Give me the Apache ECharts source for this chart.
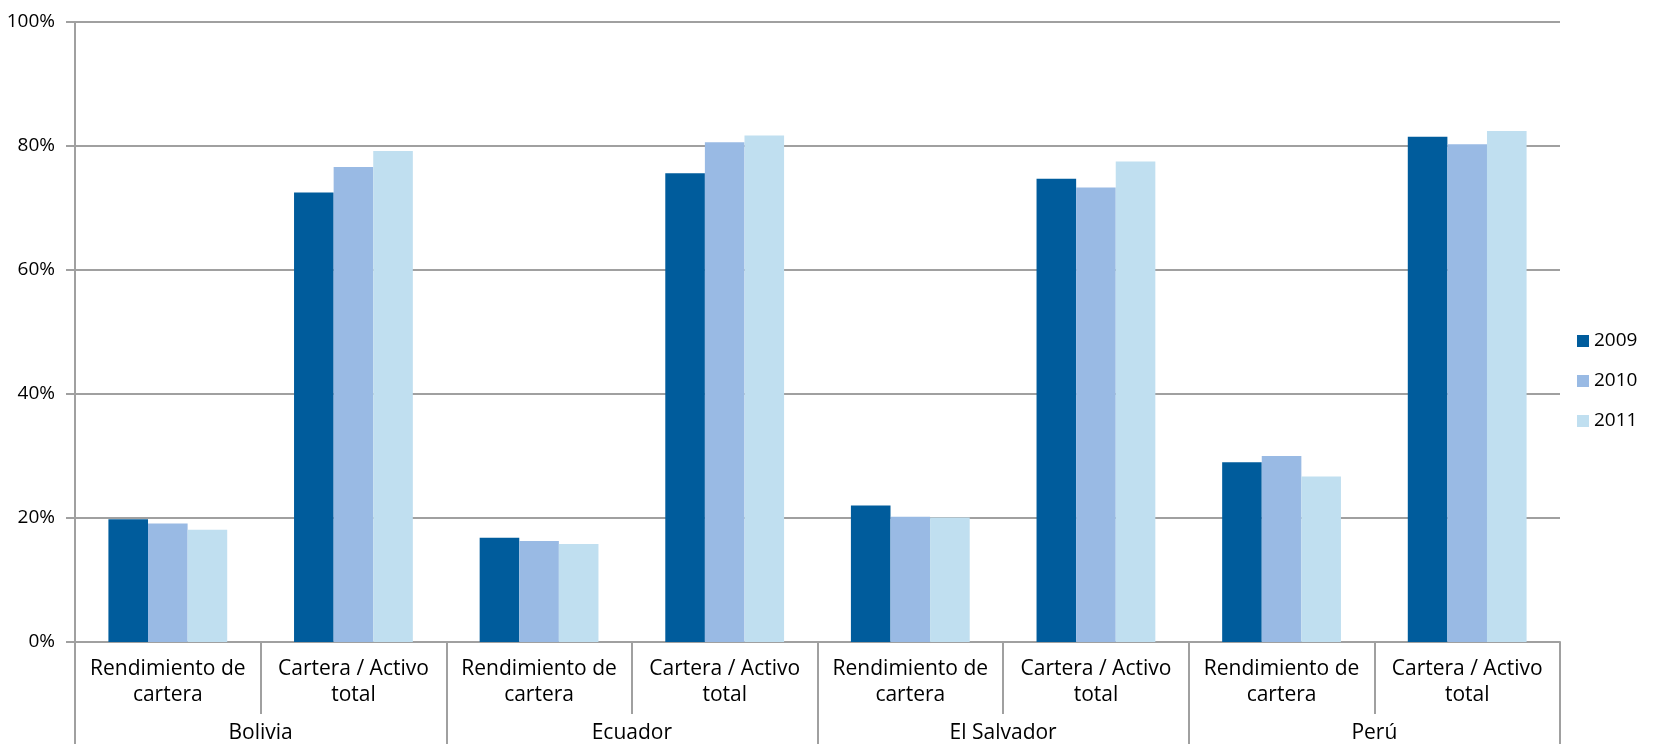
<!DOCTYPE html>
<html>
<head>
<meta charset="utf-8">
<title>Rendimiento de cartera y Cartera / Activo total</title>
<script src="https://cdn.jsdelivr.net/npm/echarts@6/dist/echarts.min.js"></script>
<style>
  html, body { margin: 0; padding: 0; background: #fff; }
  #chart { width: 1663px; height: 744px; }
</style>
</head>
<body>
<div id="chart"></div>
<script>
// Indicator names (inner axis row) and the country each pair belongs to (outer row)
const indicators = [
  'Rendimiento de\ncartera', 'Cartera / Activo\ntotal',
  'Rendimiento de\ncartera', 'Cartera / Activo\ntotal',
  'Rendimiento de\ncartera', 'Cartera / Activo\ntotal',
  'Rendimiento de\ncartera', 'Cartera / Activo\ntotal'
];
const countries = ['Bolivia', 'Ecuador', 'El Salvador', 'Perú'];
const years = ['2009', '2010', '2011'];

// Percent values per year, in the same order as the indicators
const values2009 = [19.8, 72.5, 16.8, 75.6, 22.0, 74.7, 29.0, 81.5];
const values2010 = [19.1, 76.6, 16.3, 80.6, 20.2, 73.3, 30.0, 80.3];
const values2011 = [18.1, 79.2, 15.8, 81.7, 20.1, 77.5, 26.7, 82.4];

const yTicks = { min: 0, max: 100, step: 20 };
const colors = ['#005C9C', '#99BAE4', '#C0DFF0'];

const FONT = '"Open Sans", "Noto Sans", sans-serif';
const GRID_GRAY = '#a0a0a0';

const chart = echarts.init(document.getElementById('chart'), null, { renderer: 'canvas' });

const seriesValues = [values2009, values2010, values2011];

chart.setOption({
  animation: false,
  color: colors,
  textStyle: { fontFamily: FONT, color: '#000' },
  grid: { left: 75, right: 103, top: 22, bottom: 102, containLabel: false },
  legend: {
    orient: 'vertical',
    left: 1572,
    top: 326,
    icon: 'rect',
    itemWidth: 12,
    itemHeight: 12,
    itemGap: 20,
    data: years,
    textStyle: { fontFamily: FONT, fontSize: 19, color: '#000', lineHeight: 20 }
  },
  xAxis: [
    {
      type: 'category',
      data: indicators,
      position: 'bottom',
      axisLine: { show: true, lineStyle: { color: GRID_GRAY, width: 2 } },
      axisTick: { show: true, interval: 0, length: 72, lineStyle: { color: GRID_GRAY, width: 2 } },
      axisLabel: {
        interval: 0,
        margin: 14,
        fontFamily: FONT,
        fontSize: 21,
        lineHeight: 26,
        color: '#000',
        align: 'center'
      },
      splitLine: { show: false }
    },
    {
      type: 'category',
      data: countries,
      position: 'bottom',
      axisLine: { show: false },
      axisTick: { show: true, interval: 0, length: 104, lineStyle: { color: GRID_GRAY, width: 2 } },
      axisLabel: {
        interval: 0,
        margin: 80,
        fontFamily: FONT,
        fontSize: 21,
        lineHeight: 22,
        color: '#000'
      },
      splitLine: { show: false }
    }
  ],
  yAxis: {
    type: 'value',
    min: yTicks.min,
    max: yTicks.max,
    interval: yTicks.step,
    axisLine: { show: true, lineStyle: { color: GRID_GRAY, width: 2 } },
    axisTick: { show: true, length: 9, lineStyle: { color: GRID_GRAY, width: 2 } },
    axisLabel: {
      formatter: '{value}%',
      margin: 20,
      fontFamily: FONT,
      fontSize: 19,
      color: '#000'
    },
    splitLine: { show: true, lineStyle: { color: GRID_GRAY, width: 2 } }
  },
  series: years.map((y, i) => ({
    name: y,
    type: 'bar',
    xAxisIndex: 0,
    data: seriesValues[i],
    barGap: '0%',
    barCategoryGap: '36%',
    itemStyle: { color: colors[i] }
  }))
});
</script>
</body>
</html>
